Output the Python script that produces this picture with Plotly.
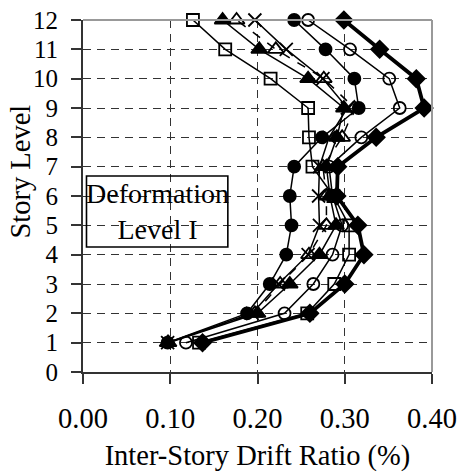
import plotly.graph_objects as go

# Story levels (1..12) and inter-story drift ratios (%) for each record
levels = [1, 2, 3, 4, 5, 6, 7, 8, 9, 10, 11, 12]

drift_square = [0.133, 0.257, 0.288, 0.305, 0.305, 0.287, 0.263, 0.259, 0.258, 0.215, 0.163, 0.126]
drift_tri_filled = [0.098, 0.200, 0.237, 0.271, 0.290, 0.283, 0.279, 0.291, 0.299, 0.258, 0.202, 0.160]
drift_tri_open = [0.097, 0.197, 0.226, 0.259, 0.279, 0.279, 0.275, 0.297, 0.311, 0.276, 0.221, 0.176]
drift_cross = [0.097, 0.194, 0.224, 0.258, 0.271, 0.270, 0.271, 0.282, 0.303, 0.275, 0.233, 0.197]
drift_circ_filled = [0.097, 0.188, 0.214, 0.233, 0.239, 0.237, 0.242, 0.274, 0.316, 0.311, 0.278, 0.242]
drift_circ_open = [0.118, 0.231, 0.264, 0.286, 0.297, 0.286, 0.282, 0.319, 0.363, 0.351, 0.306, 0.258]
drift_diamond = [0.137, 0.260, 0.300, 0.322, 0.315, 0.291, 0.292, 0.336, 0.391, 0.382, 0.340, 0.299]

x_ticks = [0.0, 0.1, 0.2, 0.3, 0.4]
y_ticks = list(range(0, 13))

FONT = "Liberation Serif, Times New Roman, serif"
INK = "#000000"
FS = 28.5

series = [
    (drift_square, "square-open", 12, "solid", 1.5),
    (drift_tri_filled, "triangle-up", 14, "solid", 1.5),
    (drift_tri_open, "triangle-up-open", 14, "dash", 1.5),
    (drift_cross, "x-thin-open", 13, "solid", 1.5),
    (drift_circ_filled, "circle", 12, "solid", 1.5),
    (drift_circ_open, "circle-open", 12, "solid", 1.5),
    (drift_diamond, "diamond", 13, "solid", 3.8),
]

fig = go.Figure()
for xs, sym, size, dash, lw in series:
    fig.add_trace(go.Scatter(
        x=xs, y=levels, mode="lines+markers", cliponaxis=False,
        line=dict(color=INK, width=lw, dash=dash),
        marker=dict(symbol=sym, size=size, color=INK,
                    line=dict(color=INK, width=1.8)),
        showlegend=False,
    ))

grid = dict(showgrid=True, gridcolor="#333333", gridwidth=1.3, griddash="8px,6px")

fig.update_xaxes(
    range=[0, 0.4], tickvals=x_ticks, ticktext=[f"{v:.2f}" for v in x_ticks],
    ticks="outside", ticklen=10, tickwidth=1.5, tickcolor="#333",
    showline=True, linecolor="#333", linewidth=2,
    tickfont=dict(family=FONT, size=FS, color=INK),
    ticklabelstandoff=10, automargin=False,
    title=dict(text="Inter-Story Drift Ratio (%)", standoff=22,
               font=dict(family=FONT, size=FS, color=INK)),
    zeroline=False, **grid,
)
fig.update_yaxes(
    range=[0, 12], tickvals=y_ticks,
    ticks="outside", ticklen=10, tickwidth=1.5, tickcolor="#333",
    showline=True, linecolor="#333", linewidth=2,
    tickfont=dict(family=FONT, size=25, color=INK),
    ticklabelstandoff=8, automargin=False,
    zeroline=False, **grid,
)

# vertical axis caption
fig.add_annotation(xref="paper", yref="paper", x=-0.18, y=0.57, text="Story Level",
                   textangle=-90, showarrow=False, xanchor="center", yanchor="middle",
                   font=dict(family=FONT, size=FS, color=INK))

# light frame on top and right of the plotting area
fig.add_shape(type="line", xref="paper", yref="paper", x0=0, x1=1, y0=1, y1=1,
              line=dict(color="#999", width=2))
fig.add_shape(type="line", xref="paper", yref="paper", x0=1, x1=1, y0=0, y1=1,
              line=dict(color="#999", width=2))

# boxed label
fig.add_shape(type="rect", xref="x", yref="y", x0=0.004, x1=0.166, y0=4.26, y1=6.68,
              line=dict(color=INK, width=1.6), layer="above")
fig.add_annotation(x=0.085, y=5.47, xref="x", yref="y", text="Deformation<br>Level I",
                   showarrow=False, align="center",
                   font=dict(family=FONT, size=28, color=INK))

fig.update_layout(
    width=461, height=472,
    margin=dict(l=83, r=29, t=20, b=100),
    paper_bgcolor="white", plot_bgcolor="white",
)

fig.write_html("out.html")
